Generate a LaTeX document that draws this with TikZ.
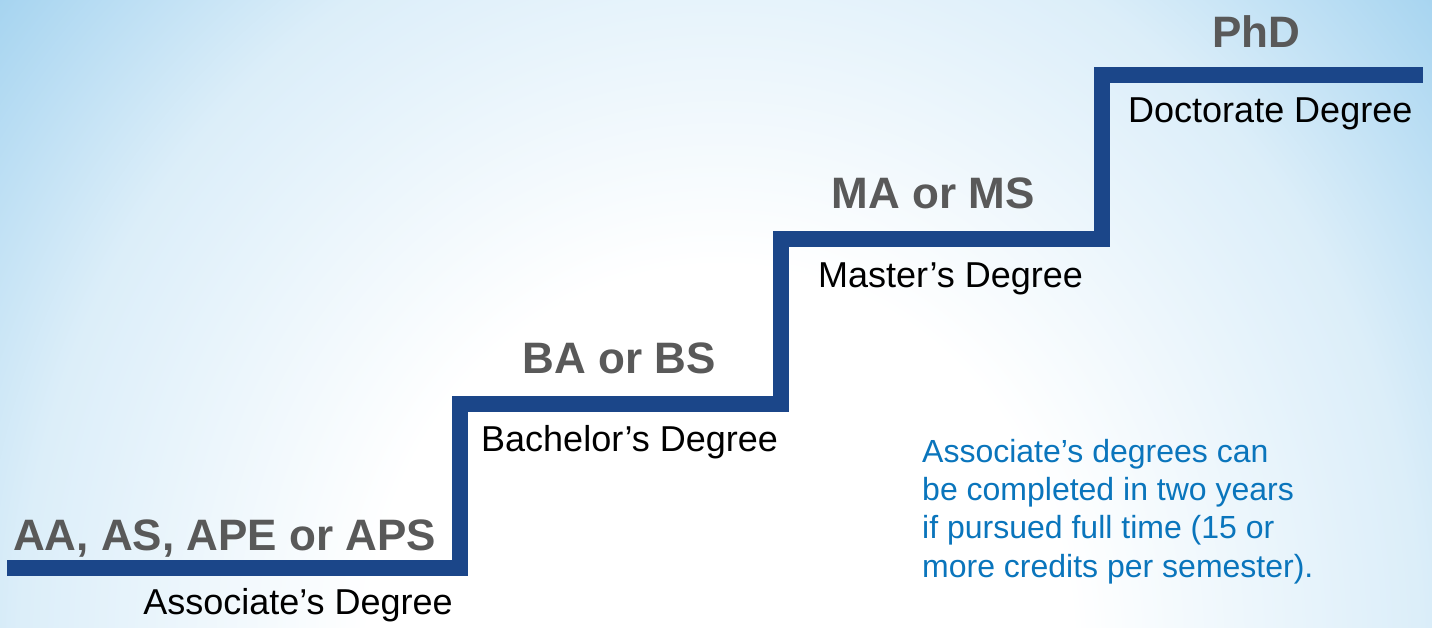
\documentclass[tikz,border=0pt]{standalone}
\usepackage{fontspec}
\setmainfont{Liberation Sans}
\definecolor{escalon}{RGB}{27,70,137}
\definecolor{gris}{RGB}{89,89,89}
\definecolor{azulnota}{RGB}{10,117,188}
\definecolor{fondo}{RGB}{166,212,240}
\colorlet{fondomedio}{fondo!40!white}
\pgfdeclareradialshading{fondoradial}{\pgfpoint{0bp}{0bp}}{color(0bp)=(white); color(7.5bp)=(white); color(15bp)=(fondomedio); color(20bp)=(fondo); color(50bp)=(fondo)}
\begin{document}
\begin{tikzpicture}[x=1pt, y=-1pt,
	escalera/.style={draw=escalon, line width=16pt, line join=miter},
	grado/.style={font=\fontsize{44}{48}\selectfont\bfseries, text=gris, inner sep=0pt},
	titulo/.style={font=\fontsize{36}{40}\selectfont, text=black, inner sep=0pt},
	nota/.style={font=\fontsize{32}{38.3}\selectfont, text=azulnota, align=left, inner sep=0pt}]
		% Fondo
			\useasboundingbox (0,0) rectangle (1432,627);
			\fill[fondo] (0,0) rectangle (1432,627);
			\begin{scope}
				\clip (0,0) rectangle (1432,627);
				\shade[shading=fondoradial] (720,650) ellipse [x radius=1170, y radius=1275];
			\end{scope}
	
		% Escalera
			\coordinate (e0) at (7,568);
			\coordinate (e1) at (460,568);
			\coordinate (e2) at (460,404);
			\coordinate (e3) at (781,404);
			\coordinate (e4) at (781,239);
			\coordinate (e5) at (1102,239);
			\coordinate (e6) at (1102,75);
			\coordinate (e7) at (1423,75);
			\draw[escalera] (e0) -- (e1) -- (e2) -- (e3) -- (e4) -- (e5) -- (e6) -- (e7);
	
		% Títulos
			\node[grado, anchor=base west] (aa) at (13,550) {AA, AS, APE or APS};
			\node[titulo, anchor=base east] (asoc) at (453,614) {Associate’s Degree};
			\node[grado, anchor=base] (ba) at (619,373) {BA or BS};
			\node[titulo, anchor=base west] (bach) at (481,451) {Bachelor’s Degree};
			\node[grado, anchor=base] (ma) at (933,208) {MA or MS};
			\node[titulo, anchor=base west] (mast) at (818,287) {Master’s Degree};
			\node[grado, anchor=base] (phd) at (1256,47) {PhD};
			\node[titulo, anchor=base west] (doct) at (1128,122) {Doctorate Degree};
		% Nota
			\node[nota, anchor=north west] (nota) at (922,439) {Associate’s degrees can\\be completed in two years\\if pursued full time (15 or\\more credits per semester).};
\end{tikzpicture}
\end{document}
